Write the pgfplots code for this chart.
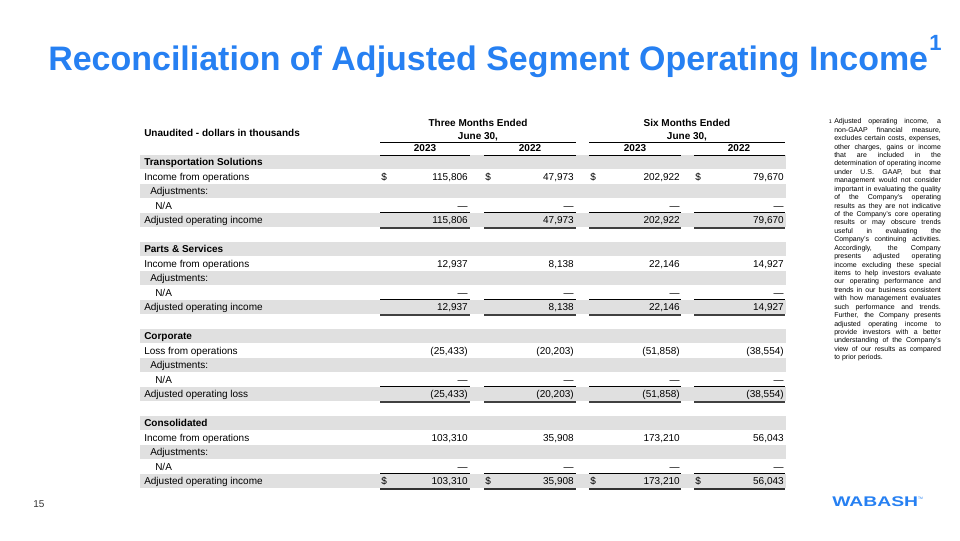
\documentclass[border=0pt]{standalone}
\usepackage{pgfplots}
\pgfplotsset{compat=1.18}
\usepackage{pgfplotstable}
\usepackage{fontspec}
\setmainfont{Liberation Sans}
\definecolor{wblue}{RGB}{38,128,242}
\definecolor{band}{RGB}{224,224,224}
\newcommand\tf{\fontsize{7.5}{9}\selectfont}
\newcommand\seglines[2]{%
 \draw[#2] (axis cs:380,#1) -- (axis cs:470,#1);
 \draw[#2] (axis cs:484,#1) -- (axis cs:576,#1);
 \draw[#2] (axis cs:589,#1) -- (axis cs:681,#1);
 \draw[#2] (axis cs:694,#1) -- (axis cs:785,#1);}
\newcommand\bandrow[1]{\fill[band] (axis cs:140,#1-7.25) rectangle (axis cs:786,#1+7.25);}
\newcommand\lab[3]{\node[anchor=base west,inner sep=0pt,font=\tf] at (axis cs:#1,#2+3.6) {#3};}
\newcommand\blab[3]{\node[anchor=base west,inner sep=0pt,font=\tf\bfseries] at (axis cs:#1,#2+3.6) {#3};}
\newcommand\dollars[1]{%
 \lab{381}{#1}{\$}\lab{485}{#1}{\$}\lab{590}{#1}{\$}\lab{695}{#1}{\$}}
\newcommand\lb{\linebreak}

\pgfplotstableread{
y c1 c2 c3 c4
176.5 115,806 47,973 202,922 79,670
205.5 — — — —
220 115,806 47,973 202,922 79,670
263.5 12,937 8,138 22,146 14,927
292.5 — — — —
307 12,937 8,138 22,146 14,927
350.5 (25,433) (20,203) (51,858) (38,554)
379.5 — — — —
394 (25,433) (20,203) (51,858) (38,554)
437.5 103,310 35,908 173,210 56,043
466.5 — — — —
481 103,310 35,908 173,210 56,043
}\vals

\begin{document}
\begin{tikzpicture}
\begin{axis}[width=720pt,height=405pt,scale only axis,hide axis,
  xmin=0,xmax=960,ymin=0,ymax=540,y dir=reverse,clip=false,
  every node near coord/.append style={anchor=base east,inner sep=0pt,font=\tf}]
\path (axis cs:0,0) rectangle (axis cs:960,540);
% shaded bands
\bandrow{162}\bandrow{191}\bandrow{220}
\bandrow{249}\bandrow{278}\bandrow{307}
\bandrow{336}\bandrow{365}\bandrow{394}
\bandrow{423}\bandrow{452}\bandrow{481}
% title
\node[anchor=base west,inner sep=0pt,text=wblue] at (axis cs:48,70)
  {\scalebox{1.036}{\fontsize{24.6}{30}\selectfont\bfseries Reconciliation of Adjusted Segment Operating Income}};
\node[anchor=base west,inner sep=0pt,text=wblue,font=\fontsize{16.5}{17}\selectfont\bfseries] at (axis cs:929,50)
  {1};
% header
\blab{144}{133}{Unaudited - dollars in thousands}
\node[anchor=base,inner sep=0pt,font=\tf\bfseries] at (axis cs:478,126.6) {Three Months Ended};
\node[anchor=base,inner sep=0pt,font=\tf\bfseries] at (axis cs:478,139.6) {June 30,};
\node[anchor=base,inner sep=0pt,font=\tf\bfseries] at (axis cs:687,126.6) {Six Months Ended};
\node[anchor=base,inner sep=0pt,font=\tf\bfseries] at (axis cs:687,139.6) {June 30,};
\draw[line width=0.6pt] (axis cs:380,142.5) -- (axis cs:576,142.5);
\draw[line width=0.6pt] (axis cs:589,142.5) -- (axis cs:785,142.5);
\node[anchor=base,inner sep=0pt,font=\tf\bfseries] at (axis cs:425,151.6) {2023};
\node[anchor=base,inner sep=0pt,font=\tf\bfseries] at (axis cs:530,151.6) {2022};
\node[anchor=base,inner sep=0pt,font=\tf\bfseries] at (axis cs:635,151.6) {2023};
\node[anchor=base,inner sep=0pt,font=\tf\bfseries] at (axis cs:739,151.6) {2022};
\seglines{155.5}{line width=0.6pt}
% row labels
\blab{144}{162}{Transportation Solutions}
\lab{144}{176.5}{Income from operations}
\lab{150}{191}{Adjustments:}
\lab{155}{205.5}{N/A}
\lab{144}{220}{Adjusted operating income}
\blab{144}{249}{Parts \& Services}
\lab{144}{263.5}{Income from operations}
\lab{150}{278}{Adjustments:}
\lab{155}{292.5}{N/A}
\lab{144}{307}{Adjusted operating income}
\blab{144}{336}{Corporate}
\lab{144}{350.5}{Loss from operations}
\lab{150}{365}{Adjustments:}
\lab{155}{379.5}{N/A}
\lab{144}{394}{Adjusted operating loss}
\blab{144}{423}{Consolidated}
\lab{144}{437.5}{Income from operations}
\lab{150}{452}{Adjustments:}
\lab{155}{466.5}{N/A}
\lab{144}{481}{Adjusted operating income}
\dollars{176.5}
\dollars{481}
% rules
\seglines{212.75}{line width=0.6pt}
\seglines{227.25}{line width=0.45pt,black!75}\seglines{228.75}{line width=0.45pt,black!75}
\seglines{299.75}{line width=0.6pt}
\seglines{314.25}{line width=0.45pt,black!75}\seglines{315.75}{line width=0.45pt,black!75}
\seglines{386.75}{line width=0.6pt}
\seglines{401.25}{line width=0.45pt,black!75}\seglines{402.75}{line width=0.45pt,black!75}
\seglines{473.75}{line width=0.6pt}
\seglines{488.25}{line width=0.45pt,black!80}\seglines{489.75}{line width=0.45pt,black!80}
% values
\addplot[draw=none,mark=none,nodes near coords,point meta=explicit symbolic]
  table[x expr=468,y expr=\thisrow{y}+3.6,meta=c1]{\vals};
\addplot[draw=none,mark=none,nodes near coords,point meta=explicit symbolic]
  table[x expr=574,y expr=\thisrow{y}+3.6,meta=c2]{\vals};
\addplot[draw=none,mark=none,nodes near coords,point meta=explicit symbolic]
  table[x expr=680,y expr=\thisrow{y}+3.6,meta=c3]{\vals};
\addplot[draw=none,mark=none,nodes near coords,point meta=explicit symbolic]
  table[x expr=784,y expr=\thisrow{y}+3.6,meta=c4]{\vals};
% footnote
\node[anchor=base east,inner sep=0pt,font=\fontsize{4}{4}\selectfont] at (axis cs:832,123) {1};
\node[anchor=north west,inner sep=0pt,text width=80pt,align=justify,
  font=\fontsize{5.25}{6.32}\selectfont]
  at (axis cs:834,118.5)
  {Adjusted operating income, a\lb non-GAAP financial measure,\lb excludes certain costs, expenses,\lb other charges, gains or income\lb that are included in the\lb determination of operating income\lb under U.S. GAAP, but that\lb management would not consider\lb important in evaluating the quality\lb of the Company's operating\lb results as they are not indicative\lb of the Company's core operating\lb results or may obscure trends\lb useful in evaluating the\lb Company's continuing activities.\lb Accordingly, the Company\lb presents adjusted operating\lb income excluding these special\lb items to help investors evaluate\lb our operating performance and\lb trends in our business consistent\lb with how management evaluates\lb such performance and trends.\lb Further, the Company presents\lb adjusted operating income to\lb provide investors with a better\lb understanding of the Company's\lb view of our results as compared\lb to prior periods.};
% page number and logo
\node[anchor=base west,inner sep=0pt,font=\fontsize{7.5}{9}\selectfont,text=black!80] at (axis cs:33,507) {15};
\node[anchor=base west,inner sep=0pt,text=wblue] at (axis cs:832,506)
  {\scalebox{1.38}[1]{\fontsize{10.5}{12}\selectfont\bfseries WABASH}\raisebox{5pt}{\fontsize{2.5}{3}\selectfont TM}};
\end{axis}
\end{tikzpicture}
\end{document}
